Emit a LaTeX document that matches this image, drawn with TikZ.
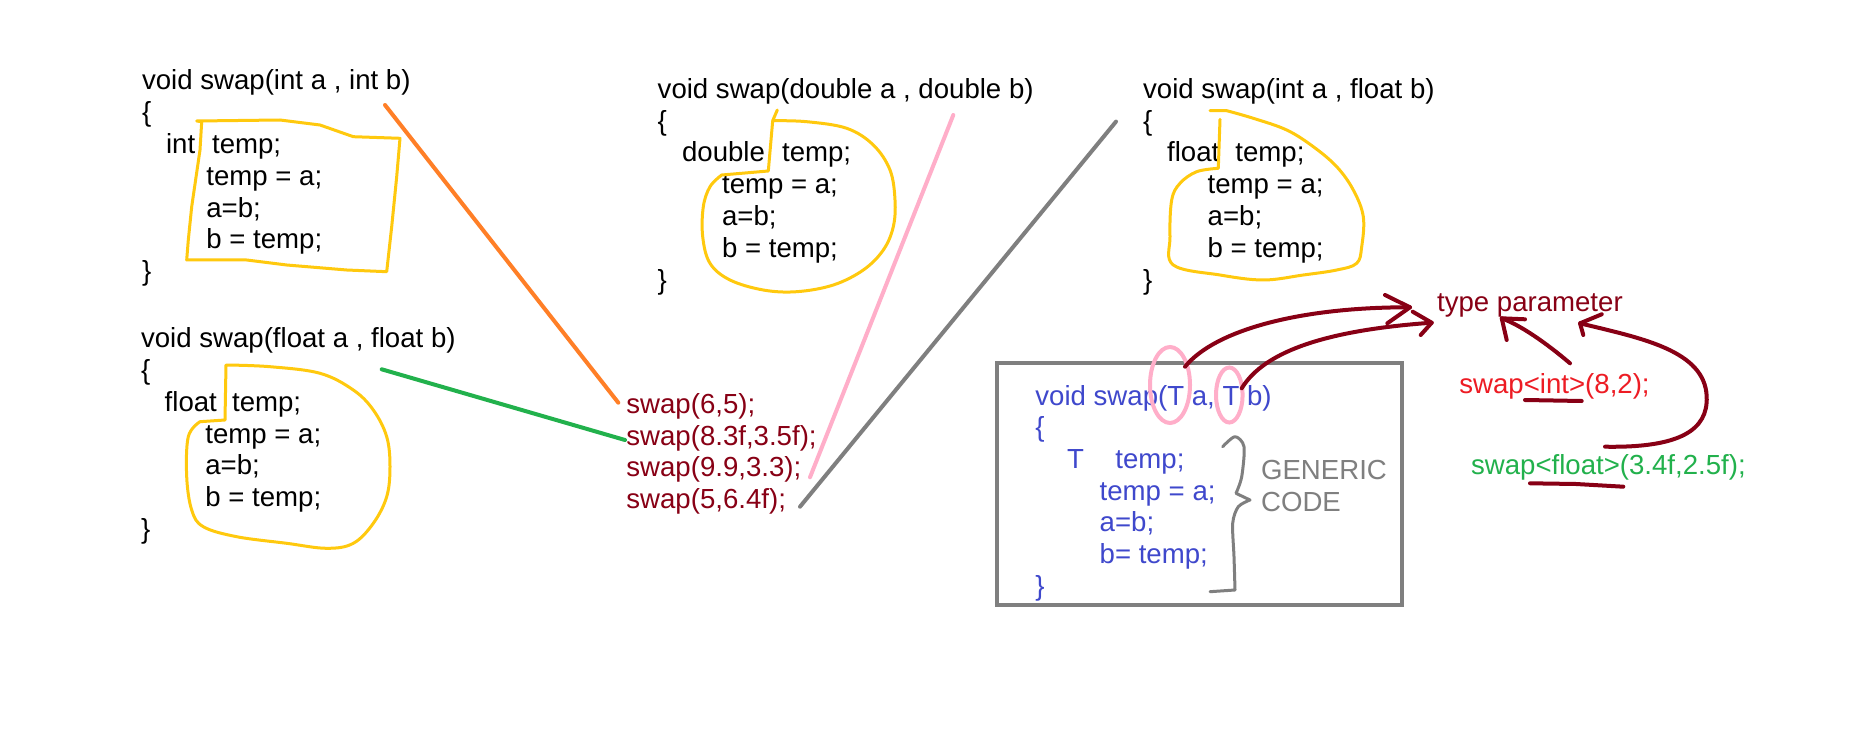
\documentclass[tikz,border=0pt]{standalone}
\usepackage{fontspec}
\setmainfont{Liberation Sans}
\definecolor{gold}{HTML}{FFC90E}
\definecolor{orng}{HTML}{FF7F27}
\definecolor{grn}{HTML}{22B14C}
\definecolor{pnk}{HTML}{FFAEC9}
\definecolor{gry}{HTML}{7F7F7F}
\definecolor{dred}{HTML}{880015}
\definecolor{blu}{HTML}{3F48CC}
\definecolor{rd}{HTML}{ED1C24}
\begin{document}
\begin{tikzpicture}[x=0.5pt,y=-0.5pt,
  txt/.style={anchor=base west,inner sep=0pt,font=\fontsize{13.8pt}{16pt}\selectfont},
  blk/.style={txt,text=black},
  cal/.style={txt,text=dred},
  gen/.style={txt,text=blu},
  hl/.style={draw=gold,line width=1.5pt,line join=round,line cap=round},
  link/.style={line width=2pt,line cap=round},
  pen/.style={draw=dred,line width=2pt,line cap=round,line join=round},
  ring/.style={draw=pnk,line width=2pt}]
\fill[white] (0,0) rectangle (1852,743);
\useasboundingbox (0,0) rectangle (1852,743);

% ---- block 1: int
\node[blk] (a0) at (141.7,90) {void swap(int a , int b)};
\node[blk] (a1) at (141.7,121.8) {\{};
\node[blk] (a2) at (165.7,153.6) {int};
\node[blk] (a2b) at (211.7,153.6) {temp;};
\node[blk] (a3) at (206,185.4) {temp = a;};
\node[blk] (a4) at (206,217.2) {a=b;};
\node[blk] (a5) at (206,249) {b = temp;};
\node[blk] (a6) at (141.7,280.8) {\}};
\draw[hl] (201.7,121.7) -- (196.7,121) -- (280,120) -- (320,125) -- (353.3,136.7) -- (400,138.3)
  -- (396.7,176.7) -- (391.7,226.7) -- (386.7,271.7) -- (346.7,270) -- (286.7,265) -- (246.7,260)
  -- (186.7,260) -- (188.3,240) -- (191.7,206.7) -- (200,150) -- (201.7,121.7);

% ---- block 2: float
\node[blk] (b0) at (140.7,347.7) {void swap(float a , float b)};
\node[blk] (b1) at (140.7,379.5) {\{};
\node[blk] (b2) at (164.3,411.3) {float};
\node[blk] (b2b) at (231.7,411.3) {temp;};
\node[blk] (b3) at (205,443.1) {temp = a;};
\node[blk] (b4) at (205,474.9) {a=b;};
\node[blk] (b5) at (205,506.7) {b = temp;};
\node[blk] (b6) at (140.7,538.5) {\}};
\draw[hl] (225,420) -- (226,365) -- plot[smooth,tension=0.6] coordinates {(226,365) (270,366.7) (320,373.3)
  (353.3,390) (373.3,410) (386.7,436.7) (390,466.7) (386.7,496.7) (373.3,523.3) (353.3,543.3)
  (326.7,548.3) (286.7,543.3) (236.7,536.7) (203.3,526.7) (191.7,510) (186.7,476.7) (188.3,436.7)
  (200,421.7)} -- (225,420);

% ---- block 3: double
\node[blk] (c0) at (657.3,98.3) {void swap(double a , double b)};
\node[blk] (c1) at (657.3,130.1) {\{};
\node[blk] (c2) at (681.7,161.9) {double};
\node[blk] (c2b) at (781.7,161.9) {temp;};
\node[blk] (c3) at (721.7,193.7) {temp = a;};
\node[blk] (c4) at (721.7,225.5) {a=b;};
\node[blk] (c5) at (721.7,257.3) {b = temp;};
\node[blk] (c6) at (657.3,289.1) {\}};
\draw[hl] (777.3,110) -- (772.7,120.7) -- plot[smooth,tension=0.6] coordinates {(772.7,120.7) (806.7,121.7)
  (846.7,128.3) (873.3,145) (890,170) (895,200) (893.3,226.7) (883.3,250) (863.3,270) (833.3,285)
  (796.7,291.7) (763.3,290) (730,280) (710,263.3) (702.7,236.7) (703.3,206.7) (710,186.7) (721.7,175)}
  -- (768.3,171) -- (772.7,120.7);

% ---- block 4: int/float
\node[blk] (d0) at (1142.7,98.3) {void swap(int a , float b)};
\node[blk] (d1) at (1142.7,130.1) {\{};
\node[blk] (d2) at (1166.7,161.9) {float};
\node[blk] (d2b) at (1235,161.9) {temp;};
\node[blk] (d3) at (1207.3,193.7) {temp = a;};
\node[blk] (d4) at (1207.3,225.5) {a=b;};
\node[blk] (d5) at (1207.3,257.3) {b = temp;};
\node[blk] (d6) at (1142.7,289.1) {\}};
\draw[hl] (1220,119.3) -- (1218.3,168.3) -- plot[smooth,tension=0.6] coordinates {(1218.3,168.3) (1196.7,171.7)
  (1180,183.3) (1171.7,200) (1170,236.7) (1173.3,265) (1220,275) (1263.3,280) (1303.3,275) (1336.7,270)
  (1356.7,263.3) (1361.7,246.7) (1363.3,216.7) (1353.3,190) (1336.7,166.7) (1313.3,146.7) (1286.7,130)
  (1253.3,118.3) (1226.7,110.7)} -- (1210,110.7);

% ---- calls
\node[cal] (k1) at (626,413.3) {swap(6,5);};
\node[cal] (k2) at (626,445) {swap(8.3f,3.5f);};
\node[cal] (k3) at (626,476.7) {swap(9.9,3.3);};
\node[cal] (k4) at (626,508.3) {swap(5,6.4f);};

% ---- connectors
\coordinate (oA) at (385,105);   \coordinate (oB) at (618.3,402.7);
\coordinate (gA) at (381.7,369.3); \coordinate (gB) at (625,440);
\coordinate (pA) at (953.3,115); \coordinate (pB) at (810,477.3);
\coordinate (yA) at (1116,121.6); \coordinate (yB) at (800,506.7);
\draw[link,orng] (oA) -- (oB);
\draw[link,grn] (gA) -- (gB);
\draw[link,pnk] (pA) -- (pB);
\draw[link,gry] (yA) -- (yB);

% ---- generic box
\draw[gry,line width=2pt] (997,362.7) rectangle (1401.5,604.7);
\node[gen] (e0) at (1035,405) {void swap(T a, T b)};
\node[gen] (e1) at (1035,436.7) {\{};
\node[gen] (e2) at (1066.7,468.3) {T};
\node[gen] (e2b) at (1115,468.3) {temp;};
\node[gen] (e3) at (1099.3,500) {temp = a;};
\node[gen] (e4) at (1099.3,531.7) {a=b;};
\node[gen] (e5) at (1099.3,563.3) {b= temp;};
\node[gen] (e6) at (1035,595) {\}};
\draw[gry,line width=1.5pt,line cap=round,line join=round] plot[smooth,tension=0.5] coordinates {(1222.7,446.7) (1235,436.7)
  (1244,446.7) (1241.7,476.7) (1236,493.3)} -- (1250,500) -- plot[smooth,tension=0.5] coordinates {(1250,500)
  (1238.3,506.7) (1232.7,523.3) (1234,556.7) (1235,590)} -- (1210,591.7);
\node[txt,text=gry] (g1) at (1260.7,479.3) {GENERIC};
\node[txt,text=gry] (g2) at (1260.7,511) {CODE};
\draw[ring] (1170,385) ellipse [x radius=20, y radius=38];
\draw[ring] (1229.3,395) ellipse [x radius=13.3, y radius=27.5];

% ---- type parameter
\node[txt,text=dred] (tp) at (1436.7,311.7) {type parameter};
\node[txt,text=rd] (si) at (1459,393.3) {swap<int>(8,2);};
\node[txt,text=grn] (sf) at (1470.7,474) {swap<float>(3.4f,2.5f);};

\coordinate (t1) at (1185,366.7);  \coordinate (h1) at (1410,307.3);
\coordinate (t2) at (1241.7,388.3); \coordinate (h2) at (1431.7,322.7);
\coordinate (t3) at (1570,363.3);  \coordinate (h3) at (1501.7,318.3);
\coordinate (t4) at (1605,446.7);  \coordinate (h4) at (1580,323.3);
\draw[pen] (t1) .. controls (1215,330) and (1300,307) .. (h1);
\draw[pen] (1385,295) -- (h1) -- (1387.3,323.3);
\draw[pen] (t2) .. controls (1265,350) and (1330,330) .. (h2);
\draw[pen] (1412.7,311.7) -- (h2) -- (1420.7,335);
\draw[pen] (t3) .. controls (1545,342) and (1520,325) .. (h3);
\draw[pen] (1506.7,340) -- (h3) -- (1525,319.3);
\draw[pen] (t4) .. controls (1680,448) and (1708,430) .. (1706.7,396.7)
  .. controls (1705,350) and (1640,338) .. (h4);
\draw[pen] (1583.3,335) -- (h4) -- (1601.7,314.3);
\draw[pen] (1525,400) -- (1581.7,401);
\draw[pen] (1530,483.3) -- (1576,484) -- (1623.3,486.7);
\end{tikzpicture}
\end{document}
